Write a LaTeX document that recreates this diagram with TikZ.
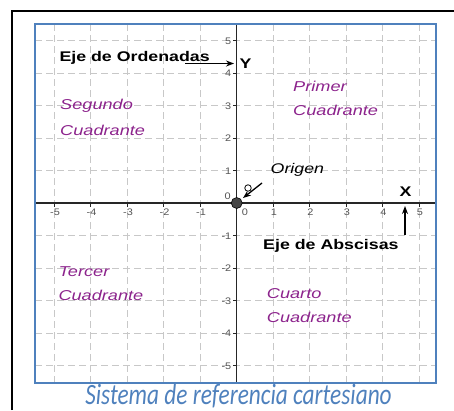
\documentclass[tikz,border=0pt]{standalone}
\usepackage{fontspec}
\setmainfont{Liberation Sans}
\newfontfamily\labf[FakeStretch=1.27]{Liberation Sans}
\newfontfamily\tickf[FakeStretch=1.15]{Liberation Sans}
\newfontfamily\capf[FakeStretch=0.79]{Carlito}
\usetikzlibrary{arrows.meta}
\definecolor{frameblue}{RGB}{79,129,189}
\definecolor{quadpurple}{RGB}{140,35,140}
\definecolor{gridgray}{RGB}{200,200,200}
\definecolor{ticktext}{RGB}{85,85,85}
\definecolor{dotgray}{RGB}{70,70,70}
\begin{document}
\begin{tikzpicture}[x=1pt,y=-1pt,
  lbl/.style={inner sep=0pt, anchor=base west},
  axislabel/.style={lbl, font=\labf\fontsize{14}{16}\selectfont\bfseries},
  quad/.style={lbl, text=quadpurple, font=\labf\fontsize{14.3}{16}\selectfont\itshape},
  gridline/.style={draw=gridgray, line width=0.7pt, dash pattern=on 7pt off 4pt},
  axisline/.style={draw=black!85, line width=1.3pt},
  tickmark/.style={draw=black!85, line width=0.8pt},
  ticklbl/.style={inner sep=0pt, text=ticktext, font=\tickf\fontsize{9.5}{10}\selectfont},
  arr/.style={draw=black, line width=1.3pt, -{Stealth[length=8pt,width=6pt]}},
  caption/.style={inner sep=0pt, anchor=base, text=frameblue, font=\capf\fontsize{29.5}{32}\selectfont\itshape}
]
\useasboundingbox (0,0) rectangle (454,410);
\clip (0,0) rectangle (454,410);
% outer frame (left and top)
\draw[black, line width=2.4pt] (12,410) -- (12,11) -- (454,11);
% grid
\foreach \k in {-5,...,5}{
  \draw[gridline] ({236.7+36.5*\k},24) -- ({236.7+36.5*\k},383);
  \draw[gridline] (35,{203-32.5*\k}) -- (436,{203-32.5*\k});
}
% axes
\draw[axisline] (35,203) -- (436,203);
\draw[axisline] (236.7,24) -- (236.7,383);
% ticks and labels
\foreach \k in {-5,...,-1,1,2,3,4,5}{
  \draw[tickmark] ({236.7+36.5*\k},203) -- ({236.7+36.5*\k},207);
  \draw[tickmark] (236.7,{203-32.5*\k}) -- (232.7,{203-32.5*\k});
  \node[ticklbl] at ({237.5+36.5*\k},212) {\k};
  \node[ticklbl, anchor=east] at (231.5,{203.5-32.5*\k}) {\k};
}
\node[ticklbl] (x0) at (245,212) {0};
\node[ticklbl, anchor=east] (y0) at (231,196) {0};
% blue frame
\draw[frameblue, line width=1.8pt] (35,24) rectangle (436,383);
% origin
\node[circle, fill=dotgray, draw=black, line width=0.6pt, minimum size=11pt, inner sep=0pt] (O) at (236.7,203) {};
\node[circle, draw=black, line width=0.8pt, minimum size=6.5pt, inner sep=0pt] (P) at (248,188) {};
\coordinate (oa) at (262,183);
\coordinate (ob) at (243,198);
\draw[arr] (oa) -- (ob);
\node[lbl, font=\labf\fontsize{14}{16}\selectfont\itshape] (orig) at (270.5,173.5) {Origen};
% labels of axes
\node[axislabel] (ord) at (59.3,61) {Eje de Ordenadas};
\coordinate (ya) at (185,63.5);
\coordinate (yb) at (234,63.5);
\draw[arr] (ya) -- (yb);
\node[axislabel] (Y) at (239.5,68.5) {Y};
\node[axislabel] (X) at (399.5,196.5) {X};
\coordinate (xa) at (405,235);
\coordinate (xb) at (405,206);
\draw[arr] (xa) -- (xb);
\node[axislabel] (abs) at (263,249) {Eje de Abscisas};
% quadrants
\node[quad] (q2a) at (60,109) {Segundo};
\node[quad] (q2b) at (60,135) {Cuadrante};
\node[quad] (q1a) at (293,91) {Primer};
\node[quad] (q1b) at (293,115) {Cuadrante};
\node[quad] (q3a) at (58.3,276) {Tercer};
\node[quad] (q3b) at (58.3,300) {Cuadrante};
\node[quad] (q4a) at (266.7,298) {Cuarto};
\node[quad] (q4b) at (266.7,322.5) {Cuadrante};
% caption
\node[caption] (cap) at (238.5,404) {Sistema de referencia cartesiano};
\end{tikzpicture}
\end{document}
